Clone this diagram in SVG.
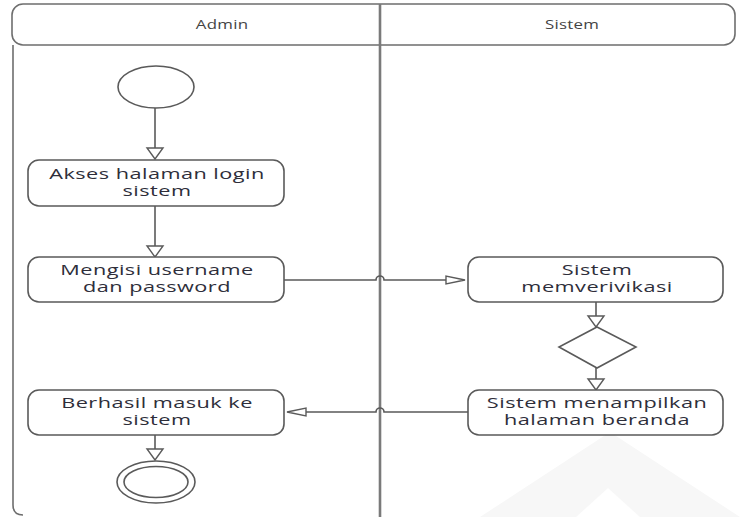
<svg xmlns="http://www.w3.org/2000/svg" width="740" height="517" viewBox="0 0 740 517">
  <style>
    .frame { fill: none; stroke: #6e6e6e; stroke-width: 1.6; }
    .lane { fill: none; stroke: #7a7a7a; stroke-width: 2.6; }
    .act { fill: #ffffff; stroke: #5a5a5a; stroke-width: 1.6; }
    .line { fill: none; stroke: #5a5a5a; stroke-width: 1.6; }
    .head { fill: #ffffff; stroke: #5a5a5a; stroke-width: 1.4; stroke-linejoin: miter; }
    .lbl { font-family: "Open Sans", "DejaVu Sans", sans-serif; font-size: 14px; fill: #2e2e3a; text-anchor: middle; letter-spacing: 0.3px; }
    .hdr { font-family: "Open Sans", "DejaVu Sans", sans-serif; font-size: 12.5px; fill: #444; text-anchor: middle; letter-spacing: 0.2px; }
  </style>

  <rect width="740" height="517" fill="#ffffff"/>

  <!-- faint background logo -->
  <g id="watermark" fill="#f7f7f7">
    <polygon points="610,432 740,517 480,517"/>
    <polygon points="608,488 640,517 576,517" fill="#ffffff"/>
  </g>

  <!-- swimlane frame -->
  <g id="lanes">
    <rect class="frame" x="12" y="4" width="723" height="41" rx="11"/>
    <path class="frame" d="M13,45 V505 Q13,515 23,515"/>
    <line class="lane" x1="380" y1="4" x2="380" y2="517"/>
    <text class="hdr" transform="translate(222,29) scale(1.35,1)">Admin</text>
    <text class="hdr" transform="translate(572,29) scale(1.35,1)">Sistem</text>
  </g>

  <!-- connectors -->
  <g id="connectors">
    <line class="line" x1="155" y1="108" x2="155" y2="148"/>
    <polygon class="head" points="147,148 163,148 155,159"/>

    <line class="line" x1="155" y1="206" x2="155" y2="246"/>
    <polygon class="head" points="147,246 163,246 155,257"/>

    <path class="line" d="M284,280 H376 A4,4 0 0 1 384,280 H446"/>
    <polygon class="head" points="446,276 446,284 465,280"/>

    <line class="line" x1="596" y1="302" x2="596" y2="316"/>
    <polygon class="head" points="588,316 604,316 596,327"/>

    <line class="line" x1="596" y1="368" x2="596" y2="379"/>
    <polygon class="head" points="588,379 604,379 596,390"/>

    <path class="line" d="M468,412 H384 A4,4 0 0 0 376,412 H306"/>
    <polygon class="head" points="306,408 306,416 287,412"/>

    <line class="line" x1="155" y1="435" x2="155" y2="449"/>
    <polygon class="head" points="147,449 163,449 155,460"/>
  </g>

  <g id="start">
    <ellipse class="act" cx="156" cy="87" rx="38" ry="21"/>
  </g>

  <g id="akses">
    <rect class="act" x="28" y="160" width="256" height="46" rx="11"/>
    <text class="lbl" transform="translate(157,179) scale(1.55,1)">Akses halaman login</text>
    <text class="lbl" transform="translate(157,196) scale(1.55,1)">sistem</text>
  </g>

  <g id="mengisi">
    <rect class="act" x="28" y="257" width="256" height="45" rx="11"/>
    <text class="lbl" transform="translate(157,275) scale(1.55,1)">Mengisi username</text>
    <text class="lbl" transform="translate(157,292) scale(1.55,1)">dan password</text>
  </g>

  <g id="verifikasi">
    <rect class="act" x="468" y="257" width="255" height="45" rx="11"/>
    <text class="lbl" transform="translate(597,275) scale(1.55,1)">Sistem</text>
    <text class="lbl" transform="translate(597,292) scale(1.55,1)">memverivikasi</text>
  </g>

  <g id="decision">
    <polygon class="act" points="597,327 636,347 597,368 559,347"/>
  </g>

  <g id="beranda">
    <rect class="act" x="468" y="390" width="255" height="45" rx="11"/>
    <text class="lbl" transform="translate(597,408) scale(1.55,1)">Sistem menampilkan</text>
    <text class="lbl" transform="translate(597,425) scale(1.55,1)">halaman beranda</text>
  </g>

  <g id="berhasil">
    <rect class="act" x="28" y="390" width="256" height="45" rx="11"/>
    <text class="lbl" transform="translate(157,408) scale(1.55,1)">Berhasil masuk ke</text>
    <text class="lbl" transform="translate(157,425) scale(1.55,1)">sistem</text>
  </g>

  <g id="end">
    <ellipse class="act" cx="156" cy="482" rx="39" ry="21"/>
    <ellipse class="act" cx="156" cy="482" rx="32" ry="15.5"/>
  </g>
</svg>
